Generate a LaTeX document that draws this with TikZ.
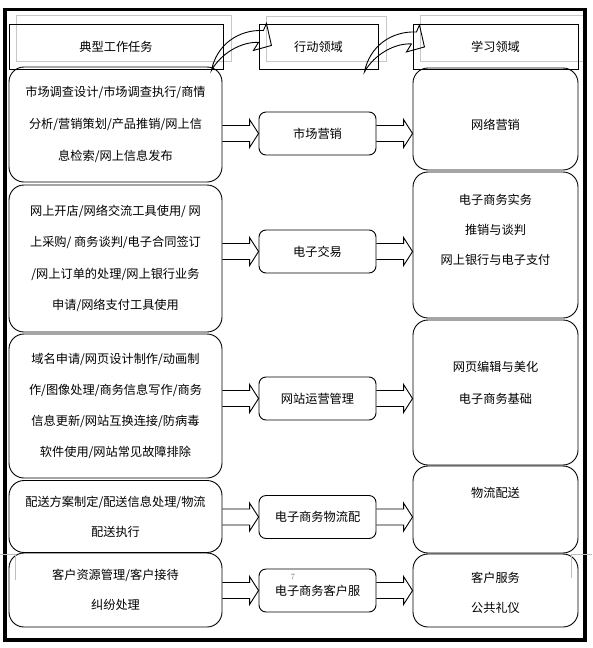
\documentclass[tikz,border=0pt]{standalone}
\usepackage{fontspec}
\newfontfamily\cjk{Noto Sans CJK SC}
\usetikzlibrary{calc, positioning, backgrounds}

% hollow block arrow: #1 start of shaft, #2 tip
\newcommand\hollowarrow[2]{%
  \draw[blockarrow] let \p1=(#1), \p2=(#2) in
    (\x1,\y2+8pt) -- (\x2-9pt,\y2+8pt) -- (\x2-9pt,\y2+14pt) -- (\x2,\y2)
    -- (\x2-9pt,\y2-14pt) -- (\x2-9pt,\y2-8pt) -- (\x1,\y2-8pt);}

% curved hollow arrow starting at #1
\newcommand\bendarrow[1]{%
  \draw[blockarrow, shift={(#1)}] (0,0) .. controls (5,-25) and (26,-41) .. (52,-40)
    -- (55,-47) -- (60,-25) -- (42,-20) -- (47,-28)
    .. controls (31,-29) and (10,-18) .. cycle;}

\begin{document}
\begin{tikzpicture}[
    x=1pt, y=-1pt,
    line width=0.9pt,
    every node/.style={font=\cjk\fontsize{12.2}{32}\selectfont, inner sep=0pt},
    headbox/.style={rectangle, draw, minimum height=45pt},
    taskbox/.style={rectangle, draw, rounded corners=15pt, minimum width=213pt, align=center},
    actbox/.style={rectangle, draw, rounded corners=7pt, minimum width=117pt, minimum height=43pt},
    learnbox/.style={rectangle, draw, rounded corners=15pt, minimum width=165pt},
    learntext/.style={align=center, font=\cjk\fontsize{12.2}{31}\selectfont},
    shadowbox/.style={draw=black!22, line width=1pt},
    blockarrow/.style={draw, line width=0.9pt, line join=miter},
    cropmark/.style={draw=black!25, line width=0.8pt},
    pagenum/.style={font=\fontsize{8}{8}\selectfont, text=black!55}
  ]
  \useasboundingbox (0,0) rectangle (592,648);

  % header row
  \node[headbox, minimum width=214pt] (hTask) at (116,46.5) {典型工作任务};
  \node[headbox, minimum width=119pt] (hAct) at (318.5,47) {行动领域};
  \node[headbox, minimum width=165pt] (hLearn) at (495.5,46.5) {学习领域};

  \begin{scope}[on background layer]
    \foreach \h in {hTask, hAct, hLearn}
      \draw[shadowbox] ($(\h.north west)+(8,-8)$) rectangle ($(\h.south east)+(8,-8)$);
  \end{scope}

  % typical work tasks
  \node[taskbox, minimum height=115pt] (task1) at (115.5,124.5)
    {市场调查设计/市场调查执行/商情\\分析/营销策划/产品推销/网上信\\息检索/网上信息发布};
  \node[taskbox, minimum height=147pt, font=\cjk\fontsize{12.2}{31.5}\selectfont] (task2) at (115.5,258.5)
    {网上开店/网络交流工具使用/ 网\\上采购/ 商务谈判/电子合同签订\\/网上订单的处理/网上银行业务\\申请/网络支付工具使用};
  \node[taskbox, minimum height=144pt, font=\cjk\fontsize{12.2}{31}\selectfont] (task3) at (115.5,406)
    {域名申请/网页设计制作/动画制\\作/图像处理/商务信息写作/商务\\信息更新/网站互换连接/防病毒\\软件使用/网站常见故障排除};
  \node[taskbox, minimum height=72pt, font=\cjk\fontsize{12.2}{30}\selectfont] (task4) at (115.5,516.5)
    {配送方案制定/配送信息处理/物流\\配送执行};
  \node[taskbox, minimum height=74pt, font=\cjk\fontsize{12.2}{30}\selectfont] (task5) at (115.5,590)
    {客户资源管理/客户接待\\纠纷处理};

  % action fields
  \node[actbox] (act1) at (317.5,133.5) {市场营销};
  \node[actbox] (act2) at (317.5,251.5) {电子交易};
  \node[actbox] (act3) at (317.5,398.5) {网站运营管理};
  \node[actbox] (act4) at (317.5,517) {电子商务物流配};
  \node[actbox] (act5) at (317.5,590.5) {电子商务客户服};
  \node[pagenum] (pgno) at (293,577) {7};

  % learning fields
  \node[learnbox, minimum height=102pt] (learn1) at (495.5,119) {};
  \node[learnbox, minimum height=146pt] (learn2) at (495.5,245) {};
  \node[learnbox, minimum height=145pt] (learn3) at (495.5,392.5) {};
  \node[learnbox, minimum height=87pt] (learn4) at (495.5,509.5) {};
  \node[learnbox, minimum height=73pt] (learn5) at (495.5,590.5) {};

  \node[learntext] (lt1) at ($(learn1.north)+(0,57)$) {网络营销};
  \node[learntext, font=\cjk\fontsize{12.2}{30}\selectfont] (lt2) at ($(learn2.north)+(0,58)$)
    {电子商务实务\\推销与谈判\\网上银行与电子支付};
  \node[learntext, font=\cjk\fontsize{12.2}{32}\selectfont] (lt3) at ($(learn3.north)+(0,63)$)
    {网页编辑与美化\\电子商务基础};
  \node[learntext] (lt4) at ($(learn4.north)+(0,27)$) {物流配送};
  \node[learntext, font=\cjk\fontsize{12.2}{30}\selectfont] (lt5) at ($(learn5.north)+(0,39)$)
    {客户服务\\公共礼仪};

  % arrows
  \foreach \i in {1,...,5} {
    \hollowarrow{task\i.east |- act\i.west}{act\i.west}
    \hollowarrow{act\i.east}{learn\i.west |- act\i.east}
  }
  \coordinate (c1) at ($(hTask.south east)+(-12,1)$);
  \coordinate (c2) at ($(hAct.south east)+(-14,2)$);
  \bendarrow{c1}
  \bendarrow{c2}

  % frame and crop marks
  \draw[line width=3.5pt] (5,9.3) rectangle (585,640);
  \draw[cropmark] (0,554) -- (15,554) -- (15,580);
  \draw[cropmark] (592,554) -- (571,554) -- (571,578);
\end{tikzpicture}
\end{document}
